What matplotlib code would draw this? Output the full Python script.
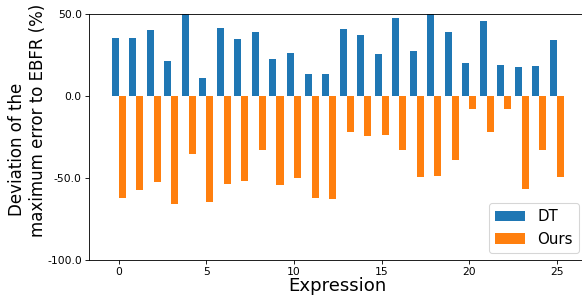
import matplotlib
matplotlib.use("Agg")
import matplotlib.pyplot as plt
from matplotlib.ticker import FormatStrFormatter
import numpy as np

# --------------------------------
# Data
# --------------------------------

expressions = list(range(26))

dt_values = [
    35.2, 35.2, 40.0, 21.2, 50.0, 10.8, 41.3, 34.6, 38.8, 22.4,
    26.0, 13.2, 13.2, 40.7, 37.0, 25.4, 47.4, 27.3, 50.0, 38.8,
    19.9, 45.5, 18.7, 17.5, 18.1, 34.0,
]

ours_values = [
    -62.0, -57.2, -52.3, -66.2, -35.3, -64.4, -53.5, -51.7, -32.9, -54.1,
    -49.9, -62.0, -62.6, -22.0, -24.4, -23.8, -32.9, -49.3, -48.7, -38.9,
    -8.1, -22.0, -8.1, -56.6, -32.9, -49.3,
]

y_ticks = [50, 0, -50, -100]

# --------------------------------
# Figure
# --------------------------------

DPI = 77

fig = plt.figure(
    figsize=(582 / DPI, 296 / DPI),
    dpi=DPI
)

# the axes runs a little past the right edge, as in the reference
ax = fig.add_axes([0.1534, 0.1216, 0.854, 0.8324])

x = np.arange(len(expressions))
width = 0.4

ax.bar(
    x - width / 2,
    dt_values,
    width,
    label="DT"
)

ax.bar(
    x + width / 2,
    ours_values,
    width,
    label="Ours"
)

ax.set_ylim(-100, 50)
ax.set_yticks(y_ticks)
ax.yaxis.set_major_formatter(
    FormatStrFormatter("%.1f")
)
ax.set_xticks([0, 5, 10, 15, 20, 25])
ax.tick_params(labelsize=10)

ax.set_xlabel(
    "Expression",
    fontsize=17,
    labelpad=0
)

# first line sits a bit lower than the second in the reference
ax.set_ylabel(
    "    Deviation of the\nmaximum error to EBFR (%)",
    fontsize=15.5,
    multialignment="left",
    labelpad=0
)
ax.yaxis.label.set_y(0.568)

ax.legend(loc="lower right", fontsize=14)

plt.savefig("out.png", dpi=DPI)
